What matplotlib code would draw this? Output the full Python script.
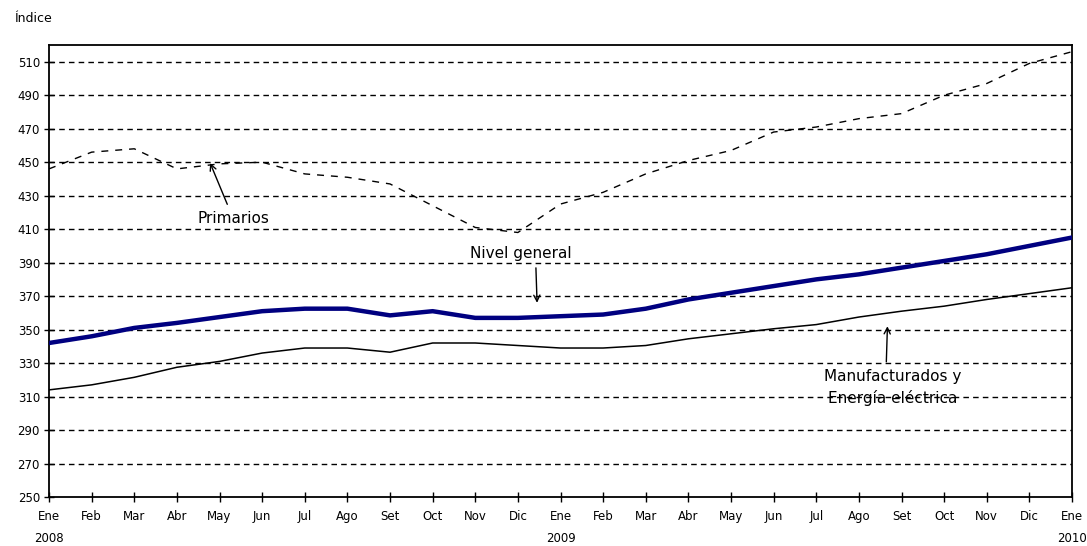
import matplotlib
matplotlib.use("Agg")
import matplotlib.pyplot as plt

months = ["Ene", "Feb", "Mar", "Abr", "May", "Jun", "Jul", "Ago", "Set", "Oct", "Nov", "Dic"]
tick_labels = [m for m in months] * 2 + ["Ene"]
years = {0: "2008", 12: "2009", 24: "2010"}

primarios = [446, 456, 458, 446, 449, 450, 443, 441, 437, 424, 411, 408,
             425, 432, 443, 451, 457, 468, 471, 476, 479, 490, 497, 509, 516]
nivel_general = [342, 346, 351, 354, 357.5, 361, 362.5, 362.5, 358.5, 361, 357, 357,
                 358, 359, 362.5, 368, 372, 376, 380, 383, 387, 391, 395, 400, 405]
manufacturados = [314, 317, 321.5, 327.5, 331, 336, 339, 339, 336.5, 342, 342, 340.5,
                  339, 339, 340.5, 344.5, 347.5, 350.5, 353, 357.5, 361, 364, 368, 371.5, 375]
yticks = list(range(250, 511, 20))

x = list(range(len(primarios)))

fig = plt.figure(figsize=(10.87, 5.46), dpi=100)
ax = fig.add_axes([0.0451, 0.0897, 0.9411, 0.8279])

ax.plot(x, primarios, color="black", lw=1.0, linestyle=(0, (5, 5)), zorder=3)
ax.plot(x, manufacturados, color="black", lw=1.1, zorder=3)
ax.plot(x, nivel_general, color="#000080", lw=3.2, zorder=4)

ax.set_xlim(0, 24)
ax.set_ylim(250, 520)
ax.set_yticks(yticks)
ax.set_yticklabels([str(v) for v in yticks], fontsize=8.5)
ax.set_xticks(x)
labels = []
for i, lab in enumerate(tick_labels):
    if i in years:
        labels.append(lab + "\n" + years[i])
    else:
        labels.append(lab)
ax.set_xticklabels(labels, fontsize=8.5, linespacing=1.9)

for yv in yticks[1:]:
    ax.axhline(yv, color="black", lw=1.0, linestyle=(0, (4, 3)), zorder=1)

ax.tick_params(axis="both", direction="inout", length=7, width=1)
ax.tick_params(axis="x", pad=6)
ax.tick_params(axis="y", pad=3)
for s in ax.spines.values():
    s.set_linewidth(1.3)
    s.set_color("black")

fig.text(0.014, 0.967, "Índice", fontsize=9, va="center", ha="left")

ap = dict(arrowstyle="->", color="black", lw=1.0, shrinkA=3, shrinkB=0)
ax.annotate("Primarios", xy=(3.78, 449.5), xytext=(4.32, 416.4), fontsize=11,
            ha="center", va="center", arrowprops=ap, zorder=5)
ax.annotate("Nivel general", xy=(11.45, 366), xytext=(11.06, 395.5), fontsize=11,
            ha="center", va="center", arrowprops=dict(ap, relpos=(0.65, 0.0)), zorder=5)
ax.annotate("Manufacturados y\nEnergía eléctrica", xy=(19.67, 352), xytext=(19.8, 315.6),
            fontsize=11, ha="center", va="center", linespacing=1.45,
            arrowprops=dict(ap, relpos=(0.45, 1.0)), zorder=5)

fig.savefig("out.png", dpi=100)
